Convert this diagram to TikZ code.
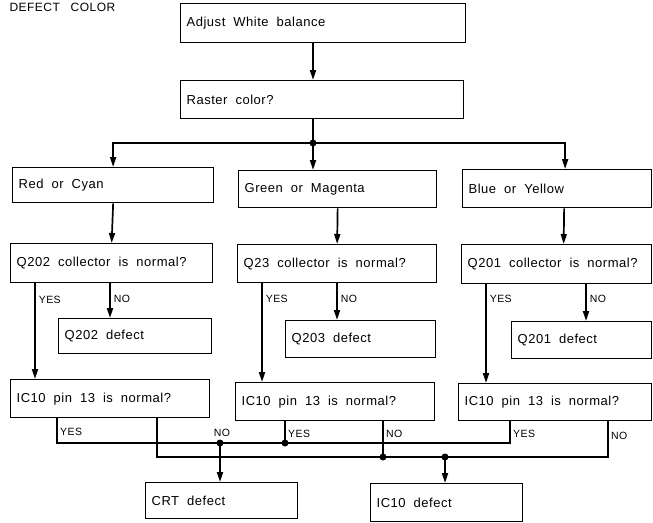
\documentclass[tikz,border=0pt]{standalone}
\usepackage{fontspec}
\setmainfont{Liberation Sans}[LetterSpace=4]
\usepackage{tikz}
\usetikzlibrary{arrows.meta,positioning,calc}

\begin{document}
\begin{tikzpicture}[x=1pt,y=-1pt,
  box/.style 2 args={draw, line width=1.3pt, anchor=north west, inner xsep=6pt, inner ysep=0pt,
    text width=#1, minimum height=#2, align=left, font=\fontsize{13}{15}\selectfont,
    execute at begin node={\spaceskip=8pt plus 1pt\relax}},
  conn/.style={line width=1.7pt},
  arr/.style={conn, -{Triangle[length=10pt,width=6pt]}},
  dot/.style={circle, fill, inner sep=0pt, minimum size=7pt},
  lbl/.style={font=\fontsize{10.5}{12}\selectfont, inner sep=3pt},
]
\useasboundingbox (0,0) rectangle (653,522);
\node[anchor=west, font=\fontsize{12}{14}\selectfont] (title) at (6,7) {DEFECT\hspace{7pt} COLOR};

\node[box={273pt}{39pt}] (adj) at (180,3) {Adjust White balance};
\node[box={271pt}{38pt}] (ras) at (180,80) {Raster color?};

\node[box={189pt}{35pt}] (red) at (12,167) {Red or Cyan};
\node[box={186pt}{37pt}] (grn) at (238,170) {Green or Magenta};
\node[box={177pt}{38pt}] (blu) at (462,169) {Blue or Yellow};

\node[box={190pt}{39pt}] (q202) at (10,243) {Q202 collector is normal?};
\node[box={187pt}{38pt}] (q23) at (237,244) {Q23 collector is normal?};
\node[box={178pt}{39pt}] (q201) at (461,244) {Q201 collector is normal?};

\node[box={141pt}{35pt}] (d202) at (58,318) {Q202 defect};
\node[box={138pt}{37pt}] (d203) at (285,320) {Q203 defect};
\node[box={128pt}{37pt}] (d201) at (511,321) {Q201 defect};

\node[box={187pt}{38pt}] (ic1) at (10,379) {IC10 pin 13 is normal?};
\node[box={187pt}{38pt}] (ic2) at (235,382) {IC10 pin 13 is normal?};
\node[box={181pt}{37pt}] (ic3) at (458,383) {IC10 pin 13 is normal?};

\node[box={140pt}{36pt}] (crt) at (145,482) {CRT defect};
\node[box={140pt}{38pt}] (icd) at (370,483) {IC10 defect};

% top part
\coordinate (j1) at (313,143);
\draw[arr] (adj.south -| j1) -- (ras.north -| j1);
\draw[conn] (ras.south -| j1) -- (j1);
\draw[arr] (j1) -| (red.north);
\draw[arr] (j1) -| ([xshift=8]blu.north);
\draw[arr] (j1) -- (j1 |- grn.north);
\node[dot] at (j1) {};
\draw[arr] (red.south) -- (q202.north);
\draw[arr] (grn.south) -- (q23.north);
\draw[arr] ([xshift=7]blu.south) -- ([xshift=7]q201.north);

% YES / NO of the collector checks
\coordinate (ys1) at ([xshift=25]ic1.north west);
\coordinate (no1) at ([xshift=52]d202.north west);
\coordinate (ys2) at ([xshift=27]ic2.north west);
\coordinate (no2) at ([xshift=52]d203.north west);
\coordinate (ys3) at ([xshift=28]ic3.north west);
\coordinate (no3) at ([xshift=75]d201.north west);
\draw[arr] (ys1 |- q202.south) -- (ys1) node[lbl, right, pos=0.17] {YES};
\draw[arr] (no1 |- q202.south) -- (no1) node[lbl, right, pos=0.45] {NO};
\draw[arr] (ys2 |- q23.south) -- (ys2) node[lbl, right, pos=0.16] {YES};
\draw[arr] (no2 |- q23.south) -- (no2) node[lbl, right, pos=0.42] {NO};
\draw[arr] (ys3 |- q201.south) -- (ys3) node[lbl, right, pos=0.15] {YES};
\draw[arr] (no3 |- q201.south) -- (no3) node[lbl, right, pos=0.4] {NO};

% bottom buses
\coordinate (crtj) at (220,443);
\coordinate (icj) at (445,457);
\coordinate (by1) at ([xshift=47]ic1.south west);
\coordinate (bn1) at ([xshift=147]ic1.south west);
\coordinate (by2) at ([xshift=50]ic2.south west);
\coordinate (bn2) at ([xshift=148]ic2.south west);
\coordinate (by3) at ([xshift=52]ic3.south west);
\coordinate (bn3) at ([xshift=150]ic3.south west);
\draw[conn] (by1) |- (by3 |- crtj) -- (by3);
\draw[conn] (bn1) |- (bn3 |- icj) -- (bn3);
\draw[conn] (by2) -- (by2 |- crtj) node[dot] {};
\draw[conn] (bn2) -- (bn2 |- icj) node[dot] {};
\draw[arr] (crtj) -- (crtj |- crt.north);
\draw[arr] (icj) -- (icj |- icd.north);
\node[dot] at (crtj) {};
\node[dot] at (icj) {};
\node[lbl, right] at ($(by1)+(0,14)$) {YES};
\node[lbl] (nolbl) at (222,433) {NO};
\node[lbl, right] at ($(by2)+(0,13)$) {YES};
\node[lbl, right] at ($(bn2)+(0,13)$) {NO};
\node[lbl, right] at ($(by3)+(0,13)$) {YES};
\node[lbl, right] at ($(bn3)+(0,15)$) {NO};
\end{tikzpicture}
\end{document}
